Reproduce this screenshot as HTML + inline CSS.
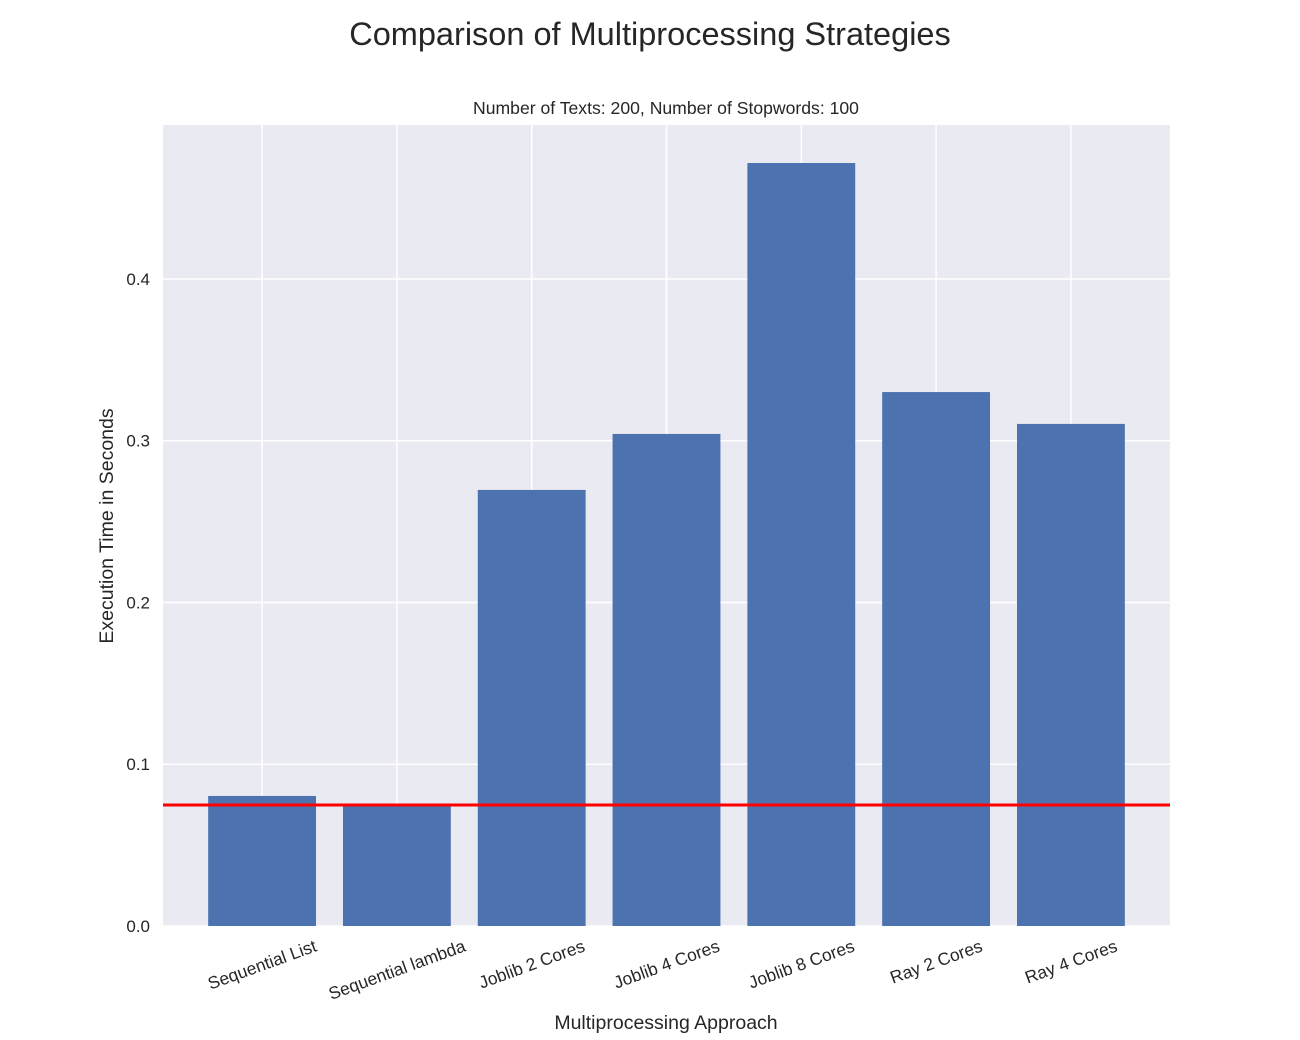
<!DOCTYPE html>
<html><head><meta charset="utf-8"><style>body{margin:0;background:#fff}svg{display:block;font-family:"Liberation Sans",sans-serif}</style></head>
<body>
<svg id="chart" width="1300" height="1040">
<text x="650" y="45" text-anchor="middle" font-size="32.5" fill="#262626">Comparison of Multiprocessing Strategies</text>
<text x="666" y="114" text-anchor="middle" font-size="17.6" fill="#262626">Number of Texts: 200, Number of Stopwords: 100</text>
<rect x="163" y="125" width="1007" height="801" fill="#eaeaf2"/>
<g id="grid"></g><g id="bars"></g><g id="ticks"></g>
<text x="666" y="1029" text-anchor="middle" font-size="19.5" fill="#262626">Multiprocessing Approach</text>
<text transform="translate(113,526) rotate(-90)" text-anchor="middle" font-size="19.5" fill="#262626">Execution Time in Seconds</text>
</svg>
<script>
const categories=["Sequential List","Sequential lambda","Joblib 2 Cores","Joblib 4 Cores","Joblib 8 Cores","Ray 2 Cores","Ray 4 Cores"];
const values=[0.0804,0.0748,0.2696,0.3042,0.4717,0.3301,0.3104];
const baseline=0.0748;
const yTicks=[0,0.1,0.2,0.3,0.4];
const yTickLabels=["0.0","0.1","0.2","0.3","0.4"];
const NS="http://www.w3.org/2000/svg";
const L=163,R=1170,T=125,B=926,ymax=0.4952;
const step=(R-L)/(categories.length-1+2*0.735);
const xs=i=>L+step*(0.735+i);
const ys=v=>B-(v/ymax)*(B-T);
function mk(p,t,a){const e=document.createElementNS(NS,t);for(const k in a)e.setAttribute(k,a[k]);document.getElementById(p).appendChild(e);return e;}
yTicks.forEach((v,i)=>{
 const g=mk("grid","line",{x1:L,x2:R,y1:ys(v),y2:ys(v),stroke:"#fff","stroke-width":1.5});
 
 
 const t=mk("ticks","text",{x:150,y:ys(v)+6,"text-anchor":"end","font-size":17,fill:"#262626"});
 t.textContent=yTickLabels[i];
 
 
});
const ang=20*Math.PI/180, fs=17.4, lh=fs*1.1;
categories.forEach((c,i)=>{
 const g=mk("grid","line",{x1:xs(i),x2:xs(i),y1:T,y2:B,stroke:"#fff","stroke-width":1.5});
 
 
 const w=step*0.8;
 const b=mk("bars","rect",{x:xs(i)-w/2,y:ys(values[i]),width:w,height:B-ys(values[i]),fill:"#4c72b0"});
 
 
 const t=mk("ticks","text",{"text-anchor":"middle","font-size":fs,fill:"#262626"});
 t.textContent=c;
 
 
 const tw=t.getComputedTextLength();
 const H=tw*Math.sin(ang)+lh*Math.cos(ang);
 const cy=936+H/2;
 t.setAttribute('transform',`translate(${xs(i)},${cy}) rotate(-20) translate(0,${fs*0.35})`);
});
const h=mk("bars","line",{x1:L,x2:R,y1:ys(baseline),y2:ys(baseline),stroke:"#ff0000","stroke-width":3});


</script>
</body></html>
